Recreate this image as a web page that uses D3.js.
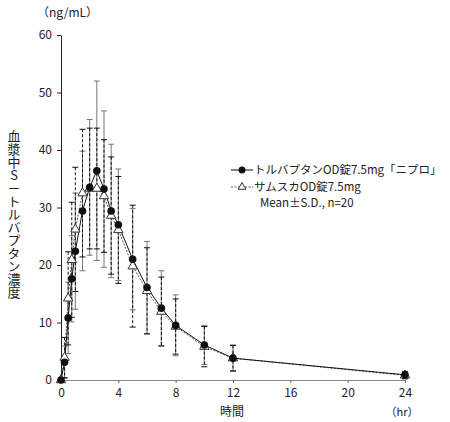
<!DOCTYPE html>
<html>
<head>
<meta charset="utf-8">
<script src="https://cdn.jsdelivr.net/npm/d3@7"></script>
<style>
  body { margin: 0; background: #fff; }
  text { font-family: "Noto Sans CJK JP", "Noto Sans", sans-serif; fill: #222; }
</style>
</head>
<body>
<div id="chart"></div>
<script>
// sampling times (hr)
const times = [0, 0.25, 0.5, 0.75, 1, 1.5, 2, 2.5, 3, 3.5, 4, 5, 6, 7, 8, 10, 12, 24];

// トルバプタンOD錠7.5mg「ニプロ」
const genericMean = [0, 3.1, 10.8, 17.6, 22.4, 29.4, 33.5, 36.4, 33.2, 29.4, 27.0, 21.0, 16.1, 12.5, 9.5, 6.1, 3.8, 0.9];
const genericSD = [0, 2.8, 6.2, 7.5, 10.1, 10.4, 11.8, 15.6, 13.6, 11.6, 9.7, 8.8, 8.0, 6.5, 5.3, 3.4, 2.3, 0.6];

// サムスカOD錠7.5mg
const brandMean = [0, 3.9, 14.2, 20.9, 26.2, 32.5, 33.3, 33.3, 32.0, 28.6, 26.1, 19.8, 15.5, 11.9, 9.3, 5.8, 3.8, 0.8];
const brandSD = [0, 3.5, 8.1, 10.0, 10.8, 11.1, 10.5, 10.5, 9.8, 10.2, 9.3, 10.6, 7.5, 6.0, 4.8, 3.5, 2.2, 0.6];

const xTicks = [0, 4, 8, 12, 16, 20, 24];
const yTicks = [0, 10, 20, 30, 40, 50, 60];

const width = 450, height = 422;

const svg = d3.select("#chart")
  .append("svg")
  .attr("width", width)
  .attr("height", height);

const x = d3.scaleLinear().domain([0, 24]).range([61, 405]);
const y = d3.scaleLinear().domain([0, 60]).range([380, 35]);

// axes

const yAxis = svg.append("g")
  .attr("transform", "translate(61,0)")
  .call(d3.axisLeft(y).tickValues(yTicks).tickSize(4).tickSizeOuter(0).tickPadding(5));
yAxis.select(".domain").attr("stroke", "#222");
yAxis.selectAll(".tick line").attr("stroke", "#222");
yAxis.selectAll("text").attr("font-size", 12).attr("fill", "#333");

const xAxis = svg.append("g")
  .attr("transform", "translate(0,380)")
  .call(d3.axisBottom(x).tickValues(xTicks).tickSize(3).tickSizeOuter(0).tickPadding(5));
xAxis.select(".domain").attr("stroke", "#888");
xAxis.selectAll(".tick line").attr("stroke", "#666");
xAxis.selectAll("text").attr("font-size", 12).attr("fill", "#333");

// axis titles

svg.append("text")
  .attr("x", 37).attr("y", 17)
  .attr("font-size", 12)
  .text("（ng/mL）");

svg.append("text")
  .attr("x", 14).attr("y", 214)
  .attr("font-size", 13)
  .attr("text-anchor", "middle")
  .style("writing-mode", "vertical-rl")
  .style("text-orientation", "upright")
  .text("血漿中S－トルバプタン濃度");

svg.append("text")
  .attr("x", 232).attr("y", 412)
  .attr("dy", "0.35em")
  .attr("text-anchor", "middle")
  .attr("font-size", 12)
  .text("時間");

svg.append("text")
  .attr("x", 402).attr("y", 412)
  .attr("dy", "0.35em")
  .attr("text-anchor", "middle")
  .attr("font-size", 11)
  .text("（hr）");

// rows

const generic = times.map((t, i) => ({ t: t, m: genericMean[i], sd: genericSD[i] }));
const brand = times.map((t, i) => ({ t: t, m: brandMean[i], sd: brandSD[i] }));

function errorBars(data, color, dash) {
  const g = svg.append("g")
    .attr("stroke", color)
    .attr("stroke-width", 1)
    .attr("fill", "none");
  const bars = g.selectAll("g").data(data.filter((d) => d.sd > 0)).join("g");
  bars.append("line")
    .attr("x1", (d) => x(d.t)).attr("x2", (d) => x(d.t))
    .attr("y1", (d) => y(d.m + d.sd)).attr("y2", (d) => y(Math.max(0, d.m - d.sd)))
    .attr("stroke-dasharray", dash);
  bars.append("line")
    .attr("x1", (d) => x(d.t) - 3).attr("x2", (d) => x(d.t) + 3)
    .attr("y1", (d) => y(d.m + d.sd)).attr("y2", (d) => y(d.m + d.sd));
  bars.append("line")
    .attr("x1", (d) => x(d.t) - 3).attr("x2", (d) => x(d.t) + 3)
    .attr("y1", (d) => y(Math.max(0, d.m - d.sd))).attr("y2", (d) => y(Math.max(0, d.m - d.sd)));
}

errorBars(generic, "#777", null);
errorBars(brand, "#111", "3,2");

const line = d3.line().x((d) => x(d.t)).y((d) => y(d.m));

svg.append("path")
  .datum(brand)
  .attr("d", line)
  .attr("fill", "none")
  .attr("stroke", "#555")
  .attr("stroke-width", 1)
  .attr("stroke-dasharray", "2,1.5");

svg.append("path")
  .datum(generic)
  .attr("d", line)
  .attr("fill", "none")
  .attr("stroke", "#111")
  .attr("stroke-width", 1);

const tri = d3.symbol().type(d3.symbolTriangle).size(38);

svg.append("g")
  .selectAll("path")
  .data(brand)
  .join("path")
  .attr("transform", (d) => "translate(" + [x(d.t), y(d.m)] + ")")
  .attr("d", tri)
  .attr("fill", "#fff")
  .attr("stroke", "#333")
  .attr("stroke-width", 1);

svg.append("g")
  .selectAll("circle")
  .data(generic)
  .join("circle")
  .attr("cx", (d) => x(d.t))
  .attr("cy", (d) => y(d.m))
  .attr("r", 3.8)
  .attr("fill", "#111");

// legend

const legend = svg.append("g");

legend.append("line")
  .attr("x1", 231).attr("x2", 253).attr("y1", 170).attr("y2", 170)
  .attr("stroke", "#111");
legend.append("circle")
  .attr("cx", 242).attr("cy", 170).attr("r", 3.5).attr("fill", "#111");
legend.append("text")
  .attr("x", 254).attr("y", 170).attr("dy", "0.35em")
  .attr("font-size", 11.5)
  .text("トルバプタンOD錠7.5mg「ニプロ」");

legend.append("line")
  .attr("x1", 231).attr("x2", 253).attr("y1", 187).attr("y2", 187)
  .attr("stroke", "#555").attr("stroke-dasharray", "2,1.5");
legend.append("path")
  .attr("transform", "translate(242,187)")
  .attr("d", d3.symbol().type(d3.symbolTriangle).size(26))
  .attr("fill", "#fff").attr("stroke", "#333");
legend.append("text")
  .attr("x", 254).attr("y", 187).attr("dy", "0.35em")
  .attr("font-size", 11.5)
  .text("サムスカOD錠7.5mg");

legend.append("text")
  .attr("x", 260).attr("y", 203).attr("dy", "0.35em")
  .attr("font-size", 11.5)
  .text("Mean±S.D., n=20");
</script>
</body>
</html>
